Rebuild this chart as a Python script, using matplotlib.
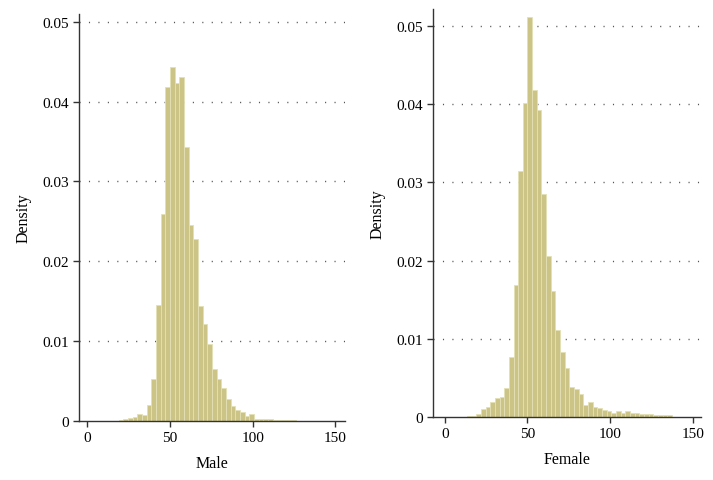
import matplotlib.pyplot as plt
from matplotlib.ticker import FuncFormatter

plt.rcParams['font.family'] = ['Liberation Serif', 'DejaVu Serif']

# histogram bins (same width for both panels), left edge of each bar
bin_width = 2.82
male_start = 50 - 13 * bin_width
female_start = 50 - 14 * bin_width

male_density = [0.00005, 0.00005, 0.00012, 0.0002, 0.0004, 0.00046, 0.0009, 0.0008,
                0.0020, 0.0052, 0.0145, 0.0259, 0.0418, 0.0443, 0.0423, 0.0431,
                0.0343, 0.0245, 0.0228, 0.0144, 0.0121, 0.0096, 0.0065, 0.0053,
                0.0041, 0.00275, 0.0019, 0.0014, 0.00116, 0.00066, 0.00088, 0.00025,
                0.0003, 0.0003, 0.0002, 0.00012, 0.00012, 0.00012, 0.0001, 0.0001,
                0.00005, 0.00005, 0.00005, 0.00004, 0.00004]

female_density = [0.00004, 0.00013, 0.0002, 0.0004, 0.001, 0.00136, 0.002, 0.0025,
                  0.0026, 0.0038, 0.0077, 0.0169, 0.0315, 0.0401, 0.0511, 0.0418,
                  0.0392, 0.0285, 0.0206, 0.0161, 0.0111, 0.0083, 0.0063, 0.0039,
                  0.0036, 0.0030, 0.0016, 0.0020, 0.00136, 0.00115, 0.00094, 0.00077,
                  0.0006, 0.00077, 0.00055, 0.00077, 0.0006, 0.00055, 0.00043, 0.0004,
                  0.0004, 0.00034, 0.0003, 0.0003, 0.00026]

xticks = [0, 50, 100, 150]
yticks = [0, 0.01, 0.02, 0.03, 0.04, 0.05]

fig = plt.figure(figsize=(7.13, 4.81), dpi=100)
ax1 = fig.add_axes([0.1108, 0.1227, 0.3731, 0.8461])
ax2 = fig.add_axes([0.6069, 0.1304, 0.3758, 0.8486])

panels = [
    (ax1, male_start, male_density, 'Male', (-5.0, 155.8), 0.05096),
    (ax2, female_start, female_density, 'Female', (-7.3, 154.7), 0.05213),
]

for ax, start, dens, name, xlim, ytop in panels:
    lefts = [start + i * bin_width for i in range(len(dens))]
    ax.bar(lefts, dens, width=bin_width, align='edge',
           color='#cbc486', edgecolor='#e4e0b4', linewidth=0.6, zorder=2)
    ax.set_xlim(*xlim)
    ax.set_ylim(0, ytop)
    ax.set_xticks(xticks)
    ax.set_yticks(yticks)
    ax.yaxis.set_major_formatter(FuncFormatter(lambda v, p: '0' if v == 0 else '%.2f' % v))
    for y in yticks[1:]:
        ax.axhline(y, color='#555555', linestyle=(0, (0.8, 6)), linewidth=1.0, zorder=1)
    for s in ['top', 'right']:
        ax.spines[s].set_visible(False)
    for s in ['left', 'bottom']:
        ax.spines[s].set_color('#333333')
        ax.spines[s].set_linewidth(1.0)
    ax.tick_params(axis='both', direction='out', length=4, width=1.0,
                   color='#333333', labelsize=11, pad=3)
    ax.set_xlabel(name, fontsize=11.5, labelpad=8)
    ax.set_ylabel('Density', fontsize=11.5, labelpad=8)

fig.savefig('out.png', dpi=100)
